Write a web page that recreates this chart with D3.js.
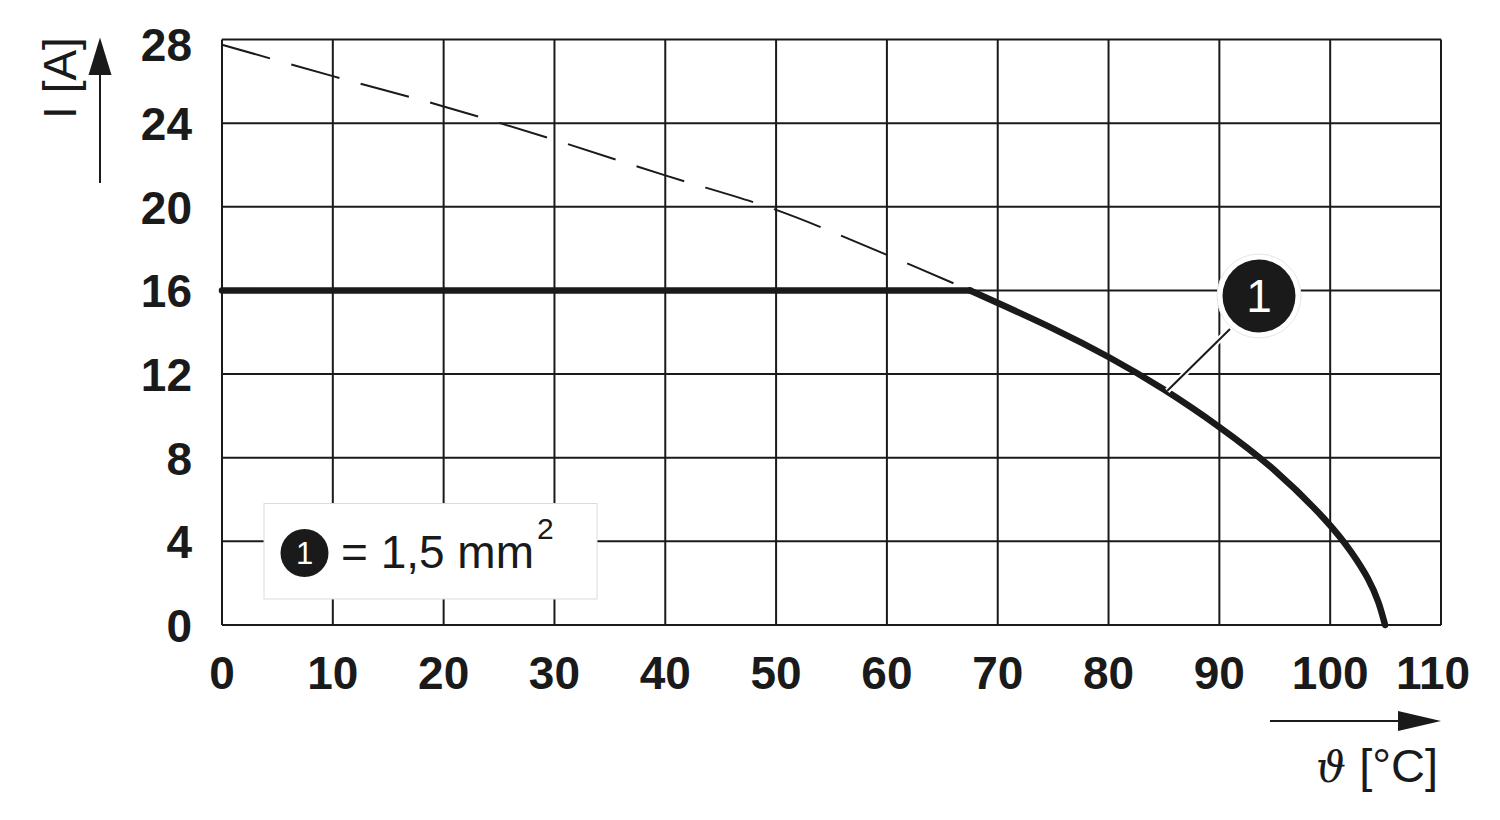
<!DOCTYPE html>
<html><head><meta charset="utf-8">
<script src="https://cdn.jsdelivr.net/npm/d3@7"></script>
<style>
html,body{margin:0;padding:0;background:#fff;}
svg{display:block;}
</style></head>
<body>
<svg id="chart" width="1500" height="820"></svg>
<script>
// ---- data ----
const xTicks = [0,10,20,30,40,50,60,70,80,90,100,110];
const yTicks = [0,4,8,12,16,20,24,28];
// solid derating curve (1,5 mm²): flat plateau then derating curve
const plateauT = [0, 67.5];
const plateauI = [16, 16];
const curveT = [67.5, 70, 75, 80, 85, 90, 95, 100, 102, 103.5, 104.4, 104.95];
const curveI = [16, 15.4, 14.2, 12.85, 11.3, 9.5, 7.5, 4.85, 3.45, 2.2, 1.1, 0];
// dashed extension (theoretical curve)
const dashT = [0, 10, 20, 30, 40, 50, 60, 67.5];
const dashI = [27.75, 26.25, 24.8, 23.2, 21.5, 19.85, 17.7, 16];
const legendLabel = "= 1,5 mm";
const legendSup = "2";
const markerLabel = "1";
const yTitle = "I [A]";
const xTitleSymbol = "ϑ";
const xTitleUnit = " [°C]";

// ---- layout ----
const svg = d3.select("#chart");
const ink = "#1a1a1a";
const x = d3.scaleLinear().domain([0,110]).range([222,1441]);
const y = d3.scaleLinear().domain([0,28]).range([625,39.5]);

// grid
const g = svg.append("g");
g.selectAll("line.v").data(xTicks).join("line")
  .attr("x1", d=>x(d)).attr("x2", d=>x(d)).attr("y1", y(0)).attr("y2", y(28))
  .attr("stroke", ink).attr("stroke-width", 2);
g.selectAll("line.h").data(yTicks).join("line")
  .attr("y1", d=>y(d)).attr("y2", d=>y(d)).attr("x1", x(0)).attr("x2", x(110))
  .attr("stroke", ink).attr("stroke-width", 2);

// tick labels
const fontB = "'Liberation Sans', Arial, Helvetica, sans-serif";
svg.append("g").selectAll("text").data(yTicks).join("text")
  .attr("x", 192).attr("y", d=> d===28 ? y(d)+5.5 : y(d)+1)
  .attr("text-anchor","end").attr("dominant-baseline","central")
  .attr("font-family", fontB).attr("font-weight","bold").attr("font-size",46)
  .attr("fill", ink).text(d=>d);
svg.append("g").selectAll("text").data(xTicks).join("text")
  .attr("x", d=> d===110 ? x(d)-8 : x(d)).attr("y", 689)
  .attr("text-anchor","middle")
  .attr("font-family", fontB).attr("font-weight","bold").attr("font-size",46)
  .attr("fill", ink).text(d=>d);

// dashed line
const smooth = d3.line().x(d=>x(d[0])).y(d=>y(d[1])).curve(d3.curveCatmullRom.alpha(0.5));
const basis = d3.line().x(d=>x(d[0])).y(d=>y(d[1])).curve(d3.curveBasis);
const straight = d3.line().x(d=>x(d[0])).y(d=>y(d[1]));
svg.append("path").datum(d3.zip(dashT, dashI)).attr("d", smooth)
  .attr("fill","none").attr("stroke", ink).attr("stroke-width",2)
  .attr("stroke-dasharray","50,22");

// solid line
svg.append("path").datum(d3.zip(plateauT, plateauI)).attr("d", straight)
  .attr("fill","none").attr("stroke", ink).attr("stroke-width",6.5)
  .attr("stroke-linecap","round");
svg.append("path").datum(d3.zip(curveT, curveI)).attr("d", basis)
  .attr("fill","none").attr("stroke", ink).attr("stroke-width",6.5)
  .attr("stroke-linecap","round").attr("stroke-linejoin","round");

// callout leader
const lx1 = x(85.3), ly1 = y(11.2), lx2 = 1230, ly2 = 329;
svg.append("line").attr("x1",lx1).attr("y1",ly1).attr("x2",lx2).attr("y2",ly2)
  .attr("stroke","#fff").attr("stroke-width",6);
svg.append("line").attr("x1",lx1).attr("y1",ly1).attr("x2",lx2).attr("y2",ly2)
  .attr("stroke",ink).attr("stroke-width",2);
svg.append("circle").attr("cx",1259).attr("cy",296).attr("r",42)
  .attr("fill","#fff").attr("stroke","#e6e6e6").attr("stroke-width",1);
svg.append("circle").attr("cx",1259).attr("cy",296).attr("r",36.5).attr("fill",ink);
svg.append("text").attr("x",1259).attr("y",296+16).attr("text-anchor","middle")
  .attr("font-family","'Liberation Sans Narrow', 'Liberation Sans', Arial, sans-serif").attr("font-size",46)
  .attr("fill","#fff").text(markerLabel);

// legend box
svg.append("rect").attr("x",264).attr("y",503.5).attr("width",333).attr("height",95.5)
  .attr("fill","#fff").attr("stroke","#dcdcdc").attr("stroke-width",1);
svg.append("circle").attr("cx",304.5).attr("cy",553).attr("r",24).attr("fill",ink);
svg.append("text").attr("x",304.5).attr("y",553+11).attr("text-anchor","middle")
  .attr("font-family","'Liberation Sans Narrow', 'Liberation Sans', Arial, sans-serif").attr("font-size",31)
  .attr("fill","#fff").text(markerLabel);
const lt = svg.append("text").attr("x",341).attr("y",568)
  .attr("font-family","'Liberation Sans', Arial, sans-serif").attr("font-size",46)
  .attr("fill",ink);
lt.append("tspan").text(legendLabel);
lt.append("tspan").attr("dy",-29).attr("font-size",30).attr("dx",3).text(legendSup);

// y axis title + arrow
svg.append("text").attr("transform","translate(76,78) rotate(-90)")
  .attr("text-anchor","middle")
  .attr("font-family","'Liberation Sans', Arial, sans-serif").attr("font-size",46)
  .attr("fill",ink).text(yTitle);
svg.append("line").attr("x1",100).attr("x2",100).attr("y1",183).attr("y2",70)
  .attr("stroke",ink).attr("stroke-width",2);
svg.append("path").attr("d","M100,37.5 L111.5,75 L88.5,75 Z").attr("fill",ink);

// x axis arrow + title
svg.append("line").attr("x1",1270).attr("x2",1405).attr("y1",721).attr("y2",721)
  .attr("stroke",ink).attr("stroke-width",2);
svg.append("path").attr("d","M1441,721 L1398,711 L1398,731 Z").attr("fill",ink);
const xt = svg.append("text").attr("x",1438).attr("y",782).attr("text-anchor","end")
  .attr("font-family","'Liberation Sans', Arial, sans-serif").attr("font-size",47)
  .attr("fill",ink);
xt.append("tspan").attr("font-family","'DejaVu Serif', serif").attr("font-style","italic").attr("font-size",42).text(xTitleSymbol);
xt.append("tspan").text(xTitleUnit);
</script>
</body></html>
